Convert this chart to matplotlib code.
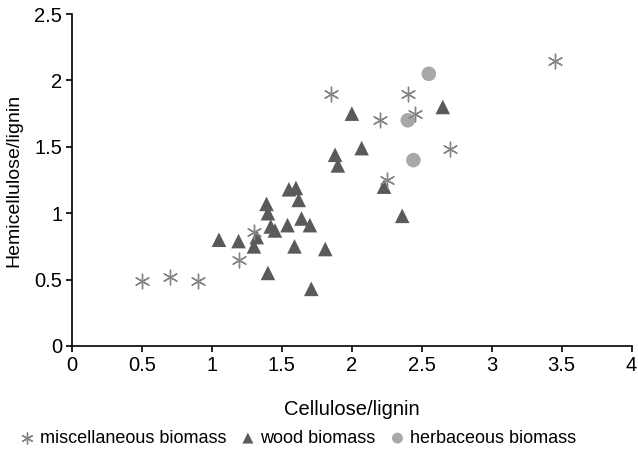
import matplotlib
matplotlib.use('Agg')
import matplotlib.pyplot as plt

plt.rcParams['font.family'] = ['Liberation Sans', 'DejaVu Sans']

# miscellaneous biomass
misc_x = [0.50, 0.70, 0.90, 1.19, 1.30, 1.85, 2.20, 2.25, 2.40, 2.45, 2.70, 3.45]
misc_y = [0.49, 0.52, 0.49, 0.65, 0.86, 1.90, 1.70, 1.25, 1.90, 1.75, 1.48, 2.15]

# wood biomass
wood_x = [1.05, 1.19, 1.30, 1.32, 1.39, 1.40, 1.42, 1.45, 1.40, 1.54, 1.55, 1.60,
          1.62, 1.59, 1.64, 1.70, 1.71, 1.81, 1.88, 1.90, 2.00, 2.07, 2.23, 2.36, 2.65]
wood_y = [0.80, 0.79, 0.75, 0.82, 1.07, 1.00, 0.90, 0.87, 0.55, 0.91, 1.18, 1.19,
          1.10, 0.75, 0.96, 0.91, 0.43, 0.73, 1.44, 1.36, 1.75, 1.49, 1.20, 0.98, 1.80]

# herbaceous biomass
herb_x = [2.55, 2.40, 2.44]
herb_y = [2.05, 1.70, 1.40]

fig = plt.figure(figsize=(6.38, 4.54), dpi=100)
ax = fig.add_axes([0.113, 0.238, 0.877, 0.731])

ax.scatter(misc_x, misc_y, marker=(6, 2, 0), s=110, color='#858585', linewidths=1.0,
           label='miscellaneous biomass', zorder=3)
ax.scatter(wood_x, wood_y, marker='^', s=110, color='#5a5a5a', edgecolors='none',
           label='wood biomass', zorder=2)
ax.scatter(herb_x, herb_y, marker='o', s=110, color='#a8a8a8', edgecolors='none',
           label='herbaceous biomass', zorder=2)

ax.set_xlim(0, 4)
ax.set_ylim(0, 2.5)
ax.set_xticks([0, 0.5, 1, 1.5, 2, 2.5, 3, 3.5, 4])
ax.set_xticklabels(['0', '0.5', '1', '1.5', '2', '2.5', '3', '3.5', '4'])
ax.set_yticks([0, 0.5, 1, 1.5, 2, 2.5])
ax.set_yticklabels(['0', '0.5', '1', '1.5', '2', '2.5'])
ax.tick_params(labelsize=14.5, length=4, width=1.2, direction='out', pad=3)
ax.spines['top'].set_visible(False)
ax.spines['right'].set_visible(False)
ax.spines['left'].set_linewidth(1.2)
ax.spines['bottom'].set_linewidth(1.2)

ax.set_xlabel('Cellulose/lignin', fontsize=14.5, labelpad=18)
ax.set_ylabel('Hemicellulose/lignin', fontsize=14, labelpad=9)

fig.legend(loc='lower left', bbox_to_anchor=(0.0, -0.02), ncol=3, frameon=False,
           fontsize=13, handletextpad=0.1, columnspacing=0.6, markerscale=0.75,
           handlelength=1.2)

fig.savefig('out.png', dpi=100)
